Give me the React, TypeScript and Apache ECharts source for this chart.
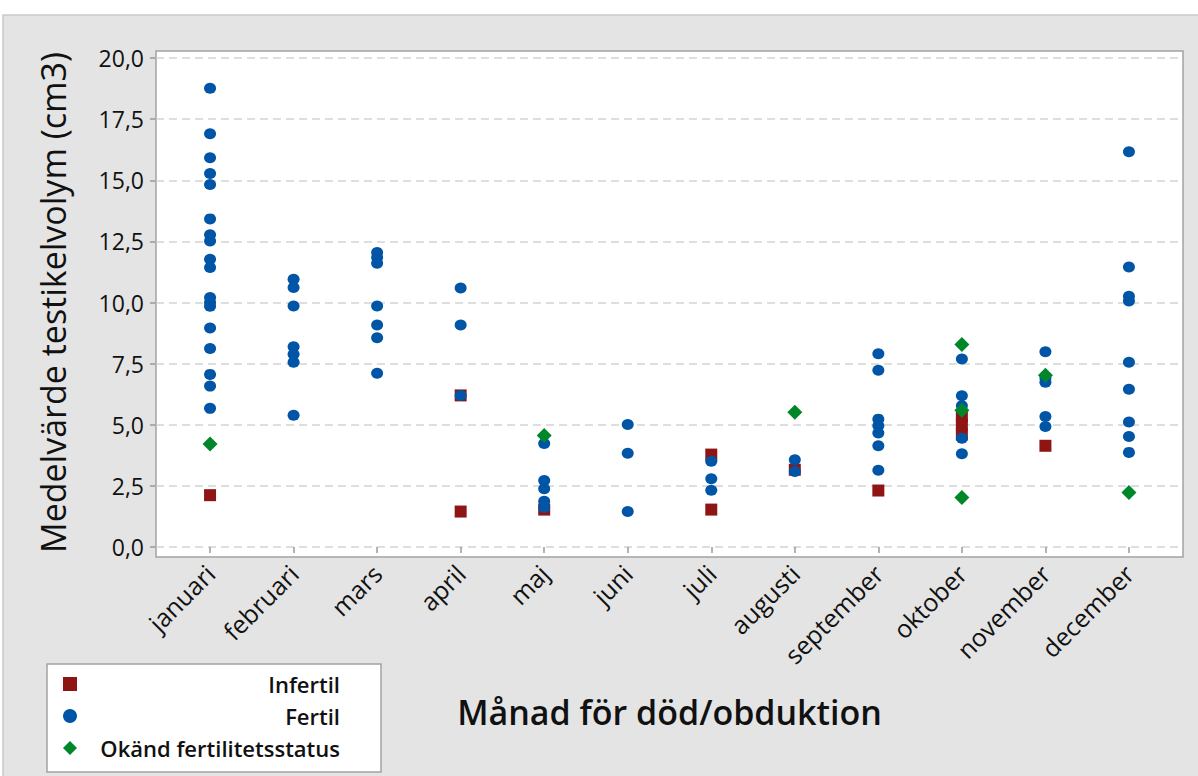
import React, { useEffect, useRef } from "react";
import * as echarts from "echarts";

const months = ["januari", "februari", "mars", "april", "maj", "juni", "juli", "augusti", "september", "oktober", "november", "december"];
const yTicks = [0, 2.5, 5, 7.5, 10, 12.5, 15, 17.5, 20];

// values per month (index 0 = januari)
const infertil: number[][] = [
  [2.12],
  [],
  [],
  [6.2, 1.45],
  [1.53],
  [],
  [3.78, 1.53],
  [3.16],
  [2.31],
  [5.36, 5.0, 4.6],
  [4.14],
  [],
];

const fertil: number[][] = [
  [18.76, 16.9, 15.92, 15.28, 14.83, 13.42, 12.77, 12.52, 11.77, 11.43, 10.2, 10.0, 9.85, 8.96, 8.12, 7.06, 6.58, 5.67],
  [10.95, 10.61, 9.86, 8.19, 7.88, 7.56, 5.39],
  [12.04, 11.84, 11.61, 9.86, 9.08, 8.56, 7.11],
  [10.59, 9.08, 6.2],
  [4.23, 2.72, 2.38, 1.87, 1.62],
  [5.01, 3.83, 1.45],
  [3.51, 2.79, 2.32],
  [3.57, 3.09],
  [7.9, 7.23, 5.23, 4.96, 4.66, 4.14, 3.14],
  [7.69, 6.19, 5.78, 4.45, 3.81],
  [7.99, 6.91, 6.74, 5.34, 4.93],
  [16.17, 11.45, 10.26, 10.06, 7.56, 6.45, 5.11, 4.52, 3.87],
];

const okand: number[][] = [
  [4.21],
  [],
  [],
  [],
  [4.56],
  [],
  [],
  [5.51],
  [],
  [8.28, 5.59, 2.02],
  [7.02],
  [2.23],
];

const seriesNames = ["Infertil", "Fertil", "Okänd fertilitetsstatus"];

const toPoints = (arr: number[][]) =>
  arr.flatMap((vals, i) => vals.map((v) => [i + 1, v]));

const FONT = "'Open Sans', 'Noto Sans', sans-serif";

export default function App() {
  const ref = useRef<HTMLDivElement>(null);

  useEffect(() => {
    document.body.style.margin = "0";
    const chart = echarts.init(ref.current!, undefined, { renderer: "svg" });
    chart.setOption({
      animation: false,
      backgroundColor: "#ffffff",
      textStyle: { fontFamily: FONT },
      graphic: [
        {
          type: "rect",
          z: -20,
          shape: { x: 3, y: 15, width: 1200, height: 770 },
          style: { fill: "#e4e4e4", stroke: "#c9c9c9", lineWidth: 1.5 },
        },
        {
          type: "rect",
          z: -10,
          shape: { x: 156, y: 51, width: 1027, height: 506 },
          style: { fill: "#ffffff", stroke: "#a3a3a3", lineWidth: 1.5 },
        },
      ],
      grid: { left: 156, right: 15, top: 58, bottom: 229, containLabel: false },
      legend: {
        orient: "vertical",
        left: 47,
        top: 664,
        padding: [9, 41, 13, 16],
        backgroundColor: "#ffffff",
        borderColor: "#a3a3a3",
        borderWidth: 1.5,
        itemWidth: 14,
        itemHeight: 14,
        itemGap: 10,
        data: [
          { name: seriesNames[0], icon: "rect" },
          { name: seriesNames[1], icon: "circle" },
          { name: seriesNames[2], icon: "diamond" },
        ],
        formatter: (n: string) => `{r|${n}}`,
        textStyle: {
          color: "#111",
          fontSize: 22,
          fontWeight: 600,
          fontFamily: FONT,
          rich: {
            r: { width: 258, align: "right", fontSize: 22, lineHeight: 23, fontWeight: 600, fontFamily: FONT, color: "#111" },
          },
        },
      },
      xAxis: {
        type: "value",
        min: 0.353,
        max: 12.647,
        offset: 10,
        name: "Månad för död/obduktion",
        nameLocation: "middle",
        nameGap: 138,
        nameTextStyle: { fontSize: 34, fontWeight: 600, color: "#111", fontFamily: FONT },
        axisLine: { show: false },
        axisTick: {
          show: true,
          length: 6,
          lineStyle: { color: "#9a9a9a", width: 1.5 },
          customValues: months.map((_, i) => i + 1),
        },
        axisLabel: {
          rotate: 45,
          margin: 12,
          fontSize: 25,
          color: "#111",
          fontFamily: FONT,
          customValues: months.map((_, i) => i + 1),
          formatter: (v: number) => months[Math.round(v) - 1] ?? "",
        },
        splitLine: { show: false },
      },
      yAxis: {
        type: "value",
        min: 0,
        max: 20,
        interval: 2.5,
        name: "Medelvärde testikelvolym (cm3)",
        nameLocation: "middle",
        nameRotate: 90,
        nameGap: 86,
        nameTextStyle: { fontSize: 34, color: "#111", fontFamily: FONT },
        axisLine: { show: false },
        axisTick: { show: true, length: 6, lineStyle: { color: "#9a9a9a", width: 1.5 } },
        axisLabel: {
          margin: 12,
          fontSize: 23,
          color: "#111",
          fontFamily: FONT,
          formatter: (v: number) => v.toFixed(1).replace(".", ","),
        },
        splitLine: { show: true, lineStyle: { color: "#d4d4d4", type: [8, 5], width: 1.5 } },
      },
      series: [
        {
          name: seriesNames[0],
          type: "scatter",
          symbol: "rect",
          symbolSize: 12,
          itemStyle: { color: "#8f1515", opacity: 1 },
          data: toPoints(infertil),
          z: 2,
        },
        {
          name: seriesNames[1],
          type: "scatter",
          symbol: "circle",
          symbolSize: [12, 11],
          itemStyle: { color: "#0055a6", opacity: 1 },
          data: toPoints(fertil),
          z: 3,
        },
        {
          name: seriesNames[2],
          type: "scatter",
          symbol: "diamond",
          symbolSize: 15,
          itemStyle: { color: "#00872a", opacity: 1 },
          data: toPoints(okand),
          z: 4,
        },
      ],
    });
    return () => chart.dispose();
  }, []);

  return <div ref={ref} style={{ width: 1198, height: 776 }} />;
}
